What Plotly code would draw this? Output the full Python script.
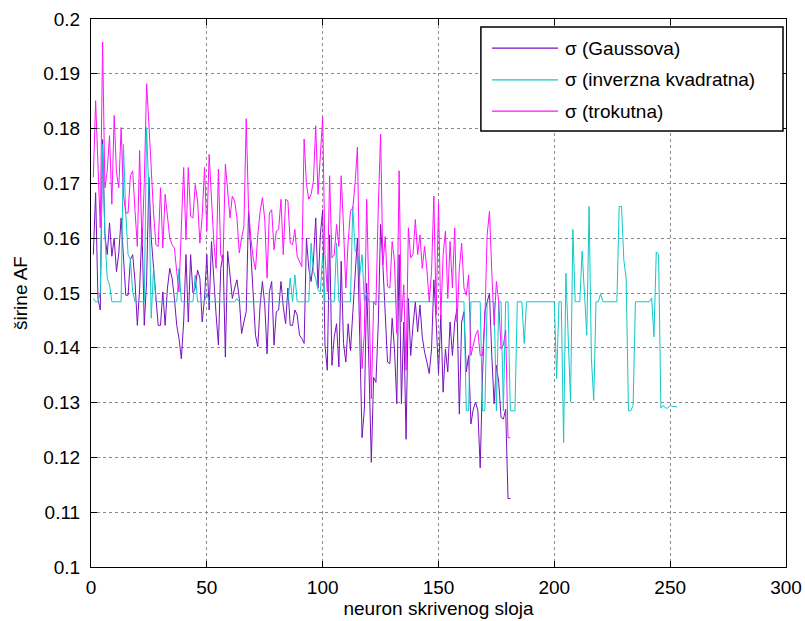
import plotly.graph_objects as go

# sigma widths per hidden-layer neuron
gauss = [
    0.157, 0.1683, 0.149, 0.1469, 0.178, 0.1606, 0.157, 0.1628, 0.1567, 0.160,
    0.1539, 0.1573, 0.1637, 0.1558, 0.1496, 0.1496, 0.1561, 0.157, 0.1521, 0.1441,
    0.1509, 0.1619, 0.1441, 0.1521, 0.1711, 0.160, 0.1545, 0.149, 0.1441, 0.1441,
    0.1502, 0.1441, 0.1509, 0.1545, 0.1527, 0.149, 0.1441, 0.1417, 0.138, 0.1447,
    0.157, 0.1447, 0.157, 0.150, 0.1509, 0.1542, 0.1527, 0.1447, 0.149, 0.157,
    0.1469, 0.1594, 0.1521, 0.146, 0.1405, 0.1545, 0.157, 0.1383, 0.1576, 0.1533,
    0.149, 0.1509, 0.1524, 0.149, 0.1426, 0.1447, 0.1466, 0.1649, 0.157, 0.149,
    0.1423, 0.1402, 0.1478, 0.1521, 0.1478, 0.1389, 0.1502, 0.1521, 0.1405, 0.1466,
    0.1469, 0.1521, 0.1475, 0.1444, 0.1509, 0.1441, 0.1441, 0.1469, 0.146, 0.1423,
    0.1417, 0.1408, 0.160, 0.1545, 0.1521, 0.1558, 0.1637, 0.1509,
    0.1606, 0.1652, 0.1405, 0.1359, 0.1606, 0.1368, 0.1420, 0.1444, 0.1365, 0.1558,
    0.1408, 0.1374, 0.1444, 0.1395, 0.1466, 0.1545, 0.1600, 0.1420, 0.1236, 0.1288,
    0.1518, 0.1362, 0.1191, 0.1346, 0.1337, 0.1444, 0.1625, 0.1551, 0.1457, 0.1374,
    0.1371, 0.1454, 0.1398, 0.1298, 0.1570, 0.1298, 0.1447, 0.1233, 0.1490, 0.1386,
    0.1441, 0.1484, 0.1429, 0.1478, 0.1420, 0.1392, 0.1374, 0.1353, 0.1398,
    0.1524, 0.1447, 0.1353, 0.1460, 0.1319, 0.1398, 0.1356, 0.1447, 0.1386, 0.1447,
    0.1472, 0.1279, 0.1447, 0.1466, 0.1356, 0.1386, 0.1261, 0.1288, 0.1301, 0.1285,
    0.1181, 0.1350, 0.1466, 0.1484, 0.1499, 0.1386, 0.1298, 0.1368, 0.1337, 0.1273,
    0.1270, 0.1288, 0.1125, 0.1125,
]

inverse = [
    0.1490, 0.1484, 0.1484, 0.1500, 0.1771, 0.1606, 0.1527, 0.1515, 0.1484, 0.1484,
    0.1484, 0.1484, 0.1484, 0.1771, 0.1646, 0.1570, 0.1561, 0.1502, 0.1484, 0.1484,
    0.1484, 0.1484, 0.1484, 0.1802, 0.1680, 0.1454, 0.1545, 0.1484, 0.1484, 0.1484,
    0.1484, 0.1484, 0.1484, 0.1484, 0.1484, 0.1484, 0.1484, 0.1545, 0.1484, 0.1484,
    0.1484, 0.1484, 0.1484, 0.1484, 0.1533, 0.1484, 0.1484, 0.1484, 0.1484, 0.1500,
    0.1484, 0.1484, 0.1484, 0.1484, 0.1484, 0.1484, 0.1484, 0.1484, 0.1484, 0.1484,
    0.1484, 0.1484, 0.1490, 0.1484, 0.1484, 0.1484, 0.1484, 0.1484, 0.1484, 0.1484,
    0.1484, 0.1484, 0.1484, 0.1484, 0.1484, 0.1484, 0.1484, 0.1484, 0.1484, 0.1484,
    0.1484, 0.1484, 0.1484, 0.1484, 0.1484, 0.1527, 0.1484, 0.1533, 0.1484, 0.1484,
    0.1484, 0.1484, 0.1484, 0.1484, 0.1591, 0.1539, 0.1527, 0.1505, 0.1502, 0.1570,
    0.1484, 0.1484, 0.1490, 0.1484, 0.1484, 0.1591, 0.1484, 0.1484, 0.1484, 0.1484,
    0.1484, 0.1484, 0.1658, 0.1576, 0.1576, 0.1533, 0.1570, 0.1485, 0.1499, 0.1484,
    0.1484, 0.1484, 0.1484, 0.1484, 0.1484, 0.1484, 0.1484, 0.1484, 0.1484, 0.1484,
    0.1484, 0.1484, 0.1484, 0.1484, 0.1484, 0.1484, 0.1484, 0.1484, 0.1484, 0.1484,
    0.1484, 0.1484, 0.1484, 0.1484, 0.1484, 0.1484, 0.1484, 0.1484, 0.1484, 0.1484,
    0.1484, 0.1484, 0.1484, 0.1484, 0.1484, 0.1484, 0.1484, 0.1484, 0.1484, 0.1484,
    0.1484, 0.1285, 0.1285, 0.1484, 0.1484, 0.1484, 0.1484, 0.1484, 0.1285, 0.1285,
    0.1484, 0.1484, 0.1484, 0.1484, 0.1285, 0.1484, 0.1484, 0.1285, 0.1484, 0.1484,
    0.1285, 0.1285, 0.1285, 0.1484, 0.1484, 0.1484, 0.1408, 0.1484, 0.1484, 0.1484,
    0.1484, 0.1484, 0.1484, 0.1484, 0.1484, 0.1484, 0.1484, 0.1484, 0.1484, 0.1484,
    0.1344, 0.1484, 0.1484, 0.1227, 0.1536, 0.1415, 0.1301, 0.1616, 0.1484, 0.1484,
    0.1484, 0.1576, 0.1500, 0.1423, 0.1658, 0.1380, 0.1304, 0.1484, 0.1484, 0.1499,
    0.1484, 0.1484, 0.1484, 0.1484, 0.1484, 0.1484, 0.1484, 0.1658, 0.1658, 0.1560,
    0.1527, 0.1285, 0.1285, 0.1295, 0.1484, 0.1484, 0.1484, 0.1484, 0.1484, 0.1484,
    0.1484, 0.1491, 0.1420, 0.1575, 0.1570, 0.1290, 0.1295, 0.1290, 0.1290, 0.1295,
    0.1293, 0.1293, 0.1292,
]

triangle = [
    0.1711, 0.1851, 0.1735, 0.1619, 0.1958, 0.1692, 0.1723, 0.1787, 0.1662, 0.1824,
    0.1720, 0.1692, 0.1802, 0.1680, 0.1646, 0.1646, 0.1714, 0.1723, 0.1650, 0.1585,
    0.1760, 0.1585, 0.1700, 0.1882, 0.1808, 0.1723, 0.1646, 0.1588, 0.1585, 0.1692,
    0.1582, 0.1680, 0.1643, 0.1600, 0.1588, 0.1582, 0.1539, 0.1502, 0.1620, 0.1729,
    0.1597, 0.1729, 0.1640, 0.1637, 0.1698, 0.1668, 0.1591, 0.1640, 0.1729,
    0.1613, 0.1753, 0.1665, 0.1594, 0.1545, 0.1726, 0.1570, 0.1558, 0.1735, 0.1680,
    0.1637, 0.1677, 0.1668, 0.1637, 0.1573, 0.1600, 0.1622, 0.1818, 0.1655, 0.1600,
    0.1564, 0.1542, 0.1606, 0.1649, 0.1674, 0.1634, 0.1527, 0.1646, 0.1652, 0.1579,
    0.1613, 0.1616, 0.1671, 0.1570, 0.1671, 0.1668, 0.1591, 0.1588, 0.1616, 0.1567,
    0.1558, 0.1548, 0.1781, 0.1698, 0.1671, 0.1680, 0.1704, 0.1805, 0.1680,
    0.1753, 0.1821, 0.1570, 0.1502, 0.1714, 0.1564, 0.1570, 0.1625, 0.1585, 0.1714,
    0.1619, 0.1509, 0.1594, 0.1650, 0.1655, 0.1700, 0.1766, 0.1515, 0.1362, 0.1429,
    0.1671, 0.1490, 0.1307, 0.1484, 0.1478, 0.1655, 0.1790, 0.1551, 0.1603, 0.1512,
    0.1509, 0.1594, 0.1558, 0.1426, 0.1723, 0.1447, 0.1515, 0.1359, 0.1619, 0.1564,
    0.1570, 0.1634, 0.1570, 0.1606, 0.1545, 0.1585, 0.1542, 0.1484, 0.1539,
    0.1677, 0.1460, 0.1665, 0.1454, 0.1570, 0.1613, 0.1490, 0.1594, 0.1509, 0.1619,
    0.1447, 0.1545, 0.1591, 0.1509, 0.1496, 0.1533, 0.1386, 0.1405, 0.1423, 0.1432,
    0.1386, 0.1386, 0.1447, 0.1606, 0.1649, 0.1539, 0.1441, 0.1521, 0.1484, 0.1398,
    0.1405, 0.1432, 0.1236, 0.1236,
]

series_names = ["σ (Gaussova)", "σ (inverzna kvadratna)", "σ (trokutna)"]
series_colors = ["#7a10c0", "#10c8c8", "#ff10ff"]
x_ticks = [0, 50, 100, 150, 200, 250, 300]
y_ticks = [0.1, 0.11, 0.12, 0.13, 0.14, 0.15, 0.16, 0.17, 0.18, 0.19, 0.2]
y_tick_text = ["0.1", "0.11", "0.12", "0.13", "0.14", "0.15", "0.16", "0.17", "0.18", "0.19", "0.2"]

FONT = "Liberation Sans, Arial, sans-serif"

fig = go.Figure()
for data, name, color in zip([gauss, inverse, triangle], series_names, series_colors):
    fig.add_trace(go.Scatter(
        x=list(range(1, len(data) + 1)), y=data, mode="lines", name=name,
        line=dict(color=color, width=1), showlegend=False,
    ))

axis_common = dict(
    showline=True, linecolor="black", linewidth=1, mirror="allticks",
    ticks="inside", ticklen=6, tickcolor="black", tickwidth=1,
    showgrid=True, gridcolor="#8a8a8a", griddash="dot", gridwidth=1,
    zeroline=False, automargin=False,
    tickfont=dict(family=FONT, size=19, color="black"),
)

fig.update_xaxes(range=[0, 300], tickvals=x_ticks, ticklabelstandoff=3,
                 title=dict(text="neuron skrivenog sloja", font=dict(family=FONT, size=19), standoff=4),
                 **axis_common)
fig.update_yaxes(range=[0.1, 0.2], tickvals=y_ticks, ticktext=y_tick_text, ticklabelstandoff=6,
                 title=dict(text="širine AF", font=dict(family=FONT, size=19), standoff=10),
                 **axis_common)

# legend box drawn like the original figure's legend
lx0, lx1, ly0, ly1 = 0.561, 0.9957, 0.7956, 0.9854
shapes = [dict(type="rect", xref="paper", yref="paper", x0=lx0, x1=lx1, y0=ly0, y1=ly1,
               line=dict(color="black", width=1.5), fillcolor="white", layer="above")]
annotations = []
rows = [0.947, 0.889, 0.832]
for name, color, ry in zip(series_names, series_colors, rows):
    shapes.append(dict(type="line", xref="paper", yref="paper", x0=0.577, x1=0.672, y0=ry, y1=ry,
                       line=dict(color=color, width=1.3), layer="above"))
    annotations.append(dict(xref="paper", yref="paper", x=0.679, y=ry, text=name, showarrow=False,
                            xanchor="left", yanchor="middle",
                            font=dict(family=FONT, size=19, color="black")))

fig.update_layout(
    width=805, height=621,
    margin=dict(l=91, r=19, t=19, b=54),
    paper_bgcolor="white", plot_bgcolor="white",
    font=dict(family=FONT, size=19, color="black"),
    showlegend=False, shapes=shapes, annotations=annotations,
)

fig.write_html("out.html", config={"displayModeBar": False},
               post_script="document.body.style.margin='0';document.body.style.overflow='hidden';")
